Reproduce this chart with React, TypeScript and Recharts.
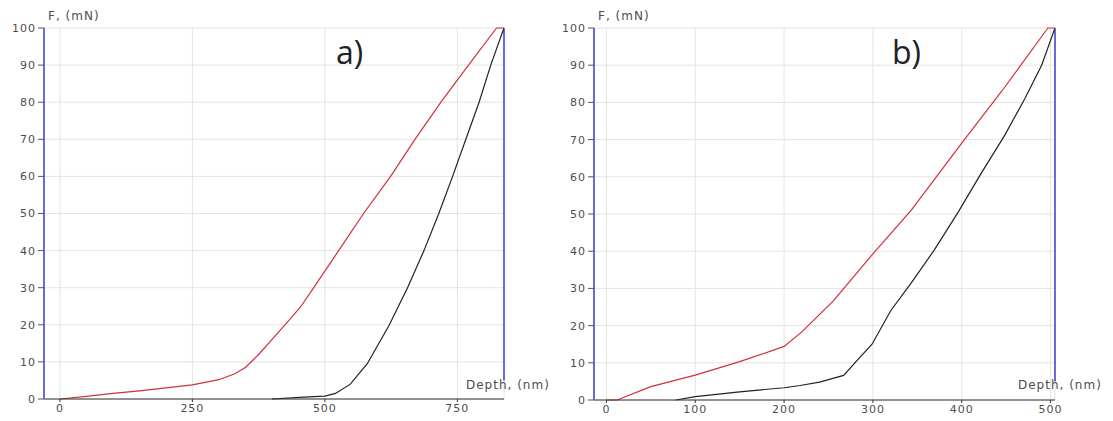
import React from "react";
import { LineChart, Line, XAxis, YAxis, CartesianGrid, ReferenceLine } from "recharts";

// panel a) — depth (nm) vs force (mN)
const loadDepthA = [0, 50, 100, 150, 200, 250, 300, 330, 350, 375, 400, 431, 454, 479, 526, 573, 624, 670, 719, 771, 824, 838];
const loadForceA = [0, 0.7, 1.5, 2.2, 3, 3.8, 5.2, 6.8, 8.5, 12, 16, 21, 24.8, 30, 40, 50, 60, 70, 80, 90, 100, 100];
const unloadDepthA = [400, 460, 500, 520, 548, 580, 621, 656, 687, 715, 741, 766, 791, 813, 838];
const unloadForceA = [0, 0.5, 0.8, 1.5, 4, 9.5, 19.8, 30, 40, 50, 60, 70, 80, 90, 100];

// panel b)
const loadDepthB = [0, 12, 50, 100, 150, 200, 220, 256, 299, 343, 403, 445, 497, 505];
const loadForceB = [0, 0, 3.6, 6.7, 10.3, 14.4, 18.3, 26.8, 39, 51, 70, 83, 100, 100];
const unloadDepthB = [78, 100, 150, 200, 218, 240, 267, 282, 299, 320, 343, 369, 396, 422, 448, 471, 490, 505];
const unloadForceB = [0, 0.9, 2.2, 3.3, 3.9, 4.8, 6.6, 10.6, 15, 24, 31.4, 40.3, 50.5, 61, 71, 81, 90, 100];

const forceTicks = [0, 10, 20, 30, 40, 50, 60, 70, 80, 90, 100];
const depthTicksA = [0, 250, 500, 750];
const depthTicksB = [0, 100, 200, 300, 400, 500];

const toPoints = (d: number[], f: number[]) => d.map((x, i) => ({ d: x, f: f[i] }));

const tickStyle = { fontSize: 11, fill: "#4d4d4d", fontFamily: "DejaVu Sans", letterSpacing: 1 };
const smallText: React.CSSProperties = {
  position: "absolute",
  fontFamily: "DejaVu Sans",
  fontSize: 12,
  letterSpacing: 1,
  color: "#4d4d4d",
  whiteSpace: "nowrap",
  lineHeight: "14px",
};
const bigText: React.CSSProperties = {
  position: "absolute",
  fontFamily: "Open Sans",
  fontSize: 32,
  color: "#222",
  lineHeight: "36px",
};

interface PanelProps {
  left: number;
  width: number;
  margin: { top: number; right: number; left: number; bottom: number };
  yWidth: number;
  xHeight: number;
  domain: [number, number];
  ticks: number[];
  load: { d: number; f: number }[];
  unload: { d: number; f: number }[];
  tag: string;
  tagX: number;
  yLabelX: number;
  xLabelX: number;
}

function Panel(p: PanelProps) {
  return (
    <div style={{ position: "absolute", left: p.left, top: 0, width: p.width, height: 421 }}>
      <LineChart width={p.width} height={421} margin={p.margin}>
        <CartesianGrid stroke="#e4e4e4" />
        <XAxis
          type="number"
          dataKey="d"
          domain={p.domain}
          ticks={p.ticks}
          allowDataOverflow
          height={p.xHeight}
          stroke="#333"
          tickSize={3}
          tick={tickStyle}
        />
        <YAxis
          type="number"
          dataKey="f"
          domain={[0, 100]}
          ticks={forceTicks}
          width={p.yWidth}
          axisLine={{ stroke: "#6b6bd6", strokeWidth: 2 }}
          tickLine={{ stroke: "#555" }}
          tickSize={6}
          tick={tickStyle}
        />
        <ReferenceLine
          segment={[{ x: p.domain[1], y: 5 }, { x: p.domain[1], y: 100 }]}
          stroke="#6b6bd6"
          strokeWidth={2}
        />
        <Line type="linear" data={p.unload} dataKey="f" stroke="#222" strokeWidth={1.2} dot={false} isAnimationActive={false} />
        <Line type="linear" data={p.load} dataKey="f" stroke="#d0303a" strokeWidth={1.2} dot={false} isAnimationActive={false} />
      </LineChart>
      <div style={{ ...smallText, left: p.yLabelX, top: 9 }}>F, (mN)</div>
      <div style={{ ...smallText, left: p.xLabelX, top: 378 }}>Depth, (nm)</div>
      <div style={{ ...bigText, left: p.tagX, top: 34 }}>{p.tag}</div>
    </div>
  );
}

export default function App() {
  return (
    <div style={{ position: "absolute", left: 0, top: 0, width: 1113, height: 421, background: "#fff" }}>
      <Panel
        left={0}
        width={560}
        margin={{ top: 28, right: 56, left: 8, bottom: 0 }}
        yWidth={36}
        xHeight={22}
        domain={[-30, 838]}
        ticks={depthTicksA}
        load={toPoints(loadDepthA, loadForceA)}
        unload={toPoints(unloadDepthA, unloadForceA)}
        tag="a)"
        tagX={336}
        yLabelX={48}
        xLabelX={466}
      />
      <Panel
        left={560}
        width={553}
        margin={{ top: 28, right: 58, left: 0, bottom: 0 }}
        yWidth={34}
        xHeight={21}
        domain={[-14, 505]}
        ticks={depthTicksB}
        load={toPoints(loadDepthB, loadForceB)}
        unload={toPoints(unloadDepthB, unloadForceB)}
        tag="b)"
        tagX={332}
        yLabelX={38}
        xLabelX={458}
      />
    </div>
  );
}
